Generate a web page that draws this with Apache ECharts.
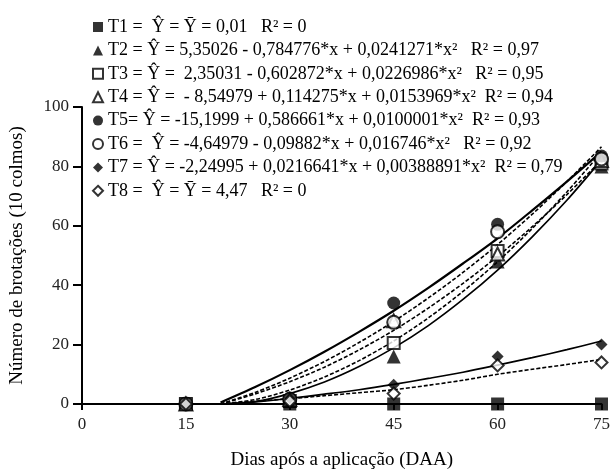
<!DOCTYPE html>
<html>
<head>
<meta charset="utf-8">
<script src="https://cdn.jsdelivr.net/npm/echarts@6/dist/echarts.min.js"></script>
<style>
  html, body { margin: 0; padding: 0; background: #fff; }
  #chart { width: 613px; height: 475px; }
</style>
</head>
<body>
<div id="chart"></div>
<script>
// observed points (days after application)
var days = [15, 30, 45, 60, 75];
var t1 = [0, 0, 0, 0, 0];
var t2 = [0, 1, 16, 48, 80];
var t3 = [0, 1, 20.5, 51.5, 81];
var t4 = [0, 1.5, 28, 50.5, 82];
var t5 = [0, 2, 34, 60.5, 83.5];
var t6 = [0, 1.5, 27.5, 58, 82.5];
var t7 = [0, 2, 6.5, 16, 20];
var t8 = [0, 1, 3.5, 13, 14];

// fitted curves, every 5 days
var fitDays = [20, 25, 30, 35, 40, 45, 50, 55, 60, 65, 70, 75];
var fit1Days = [15, 75];
var fit1 = [0, 0];
var fit2 = [0, 0.8, 3.5, 7.4, 12.6, 18.9, 26.4, 35.2, 45.1, 56.3, 68.6, 82.2];
var fit3 = [0, 1.5, 4.7, 9.1, 14.6, 21.2, 29, 37.9, 47.9, 59.1, 71.4, 84.8];
var fit4 = [0, 3.9, 8.7, 14.3, 20.7, 27.8, 35.7, 44.3, 53.7, 63.9, 74.9, 86.6];
var fit5 = [0.5, 5.7, 11.4, 17.6, 24.3, 31.4, 39.1, 47.3, 55.8, 65.2, 74.9, 85];
var fit6 = [0, 3.4, 7.5, 12.4, 18.2, 24.8, 32.3, 40.6, 49.7, 59.7, 70.5, 82.1];
var fit7 = [0, 0.7, 1.9, 3.3, 4.8, 6.6, 8.6, 10.7, 13.1, 15.6, 18.3, 21.2];
var fit8 = [0, 0.9, 1.8, 2.8, 3.8, 4.8, 6.3, 8, 10, 11.7, 13.3, 15];

var xTicks = [0, 15, 30, 45, 60, 75];
var yTicks = [0, 20, 40, 60, 80, 100];

var equations = {
    T1: 'T1 =  Ŷ = Ȳ = 0,01   R² = 0',
    T2: 'T2 = Ŷ = 5,35026 - 0,784776*x + 0,0241271*x²   R² = 0,97',
    T3: 'T3 = Ŷ =  2,35031 - 0,602872*x + 0,0226986*x²   R² = 0,95',
    T4: 'T4 = Ŷ =  - 8,54979 + 0,114275*x + 0,0153969*x²  R² = 0,94',
    T5: 'T5= Ŷ = -15,1999 + 0,586661*x + 0,0100001*x²  R² = 0,93',
    T6: 'T6 =  Ŷ = -4,64979 - 0,09882*x + 0,016746*x²   R² = 0,92',
    T7: 'T7 = Ŷ = -2,24995 + 0,0216641*x + 0,00388891*x²  R² = 0,79',
    T8: 'T8 =  Ŷ = Ȳ = 4,47   R² = 0'
};

var font = '"Liberation Serif", "Times New Roman", serif';

function pairs(xs, ys) {
    return xs.map(function (x, i) { return [x, ys[i]]; });
}

function points(name, values, symbol, size, open) {
    return {
        name: name,
        type: 'scatter',
        data: pairs(days, values),
        symbol: symbol,
        symbolSize: size,
        z: 5,
        itemStyle: open
            ? { color: '#fff', borderColor: '#000', borderWidth: 2 }
            : { color: '#000' }
    };
}

function curve(xs, values, dashed, width) {
    return {
        type: 'line',
        data: pairs(xs, values),
        smooth: 0.3,
        showSymbol: false,
        silent: true,
        z: 2,
        lineStyle: {
            color: '#000',
            width: width,
            type: dashed ? [4, 2] : 'solid'
        }
    };
}

var chart = echarts.init(document.getElementById('chart'));
chart.setOption({
    animation: false,
    backgroundColor: '#fff',
    grid: { left: 78, right: 10, top: 107, bottom: 68 },
    legend: {
        orient: 'vertical',
        left: 87,
        top: 13,
        itemWidth: 10,
        itemHeight: 10,
        itemGap: 5.4,
        data: ['T1', 'T2', 'T3', 'T4', 'T5', 'T6', 'T7', 'T8'],
        formatter: function (name) { return equations[name]; },
        textStyle: { fontFamily: font, fontSize: 18, color: '#000', lineHeight: 18 }
    },
    xAxis: {
        type: 'value',
        min: 0,
        max: 75,
        interval: 15,
        name: 'Dias após a aplicação (DAA)',
        nameLocation: 'middle',
        nameGap: 47,
        nameTextStyle: { fontFamily: font, fontSize: 19, color: '#000' },
        axisLine: { lineStyle: { color: '#000', width: 2 } },
        axisTick: { show: true, length: 6, lineStyle: { color: '#000', width: 2 } },
        axisLabel: {
            fontFamily: font, fontSize: 17, color: '#222', margin: 12,
            formatter: function (v) { return xTicks.indexOf(v) >= 0 ? String(v) : ''; }
        },
        splitLine: { show: false }
    },
    yAxis: {
        type: 'value',
        min: 0,
        max: 100,
        interval: 20,
        name: 'Número de brotações (10 colmos)',
        nameLocation: 'middle',
        nameGap: 55,
        nameTextStyle: { fontFamily: font, fontSize: 19, color: '#000' },
        axisLine: { show: true, lineStyle: { color: '#000', width: 2 } },
        axisTick: { show: true, length: 9, lineStyle: { color: '#000', width: 2 } },
        axisLabel: {
            fontFamily: font, fontSize: 17, color: '#222', margin: 13,
            formatter: function (v) { return yTicks.indexOf(v) >= 0 ? String(v) : ''; }
        },
        splitLine: { show: false }
    },
    series: [
        curve(fit1Days, fit1, false, 2.2),
        curve(fitDays, fit5, false, 2.2),
        curve(fitDays, fit4, true, 1.6),
        curve(fitDays, fit6, true, 1.6),
        curve(fitDays, fit3, true, 1.6),
        curve(fitDays, fit2, false, 1.7),
        curve(fitDays, fit7, false, 1.7),
        curve(fitDays, fit8, true, 1.6),
        points('T1', t1, 'rect', 13, false),
        points('T2', t2, 'triangle', 14, false),
        points('T3', t3, 'rect', 12, true),
        points('T4', t4, 'triangle', 13, true),
        points('T5', t5, 'circle', 13, false),
        points('T6', t6, 'circle', 13, true),
        points('T7', t7, 'diamond', 12, false),
        points('T8', t8, 'diamond', 12, true)
    ]
});
</script>
</body>
</html>
